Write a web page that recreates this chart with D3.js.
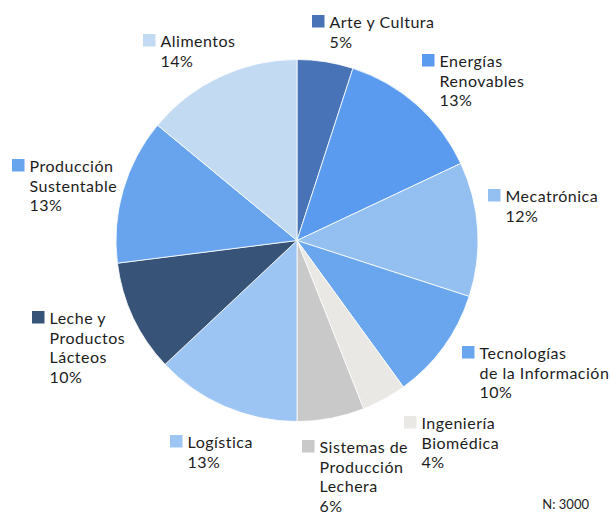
<!DOCTYPE html>
<html>
<head>
<meta charset="utf-8">
<script src="https://cdn.jsdelivr.net/npm/d3@7"></script>
<style>
  body { margin: 0; background: #fff; }
  text { font-family: Lato, "Noto Sans", sans-serif; fill: #1d1d1d; }
</style>
</head>
<body>
<svg id="chart" width="612" height="513"></svg>
<script>
const categories = ["Arte y Cultura", "Energías Renovables", "Mecatrónica",
  "Tecnologías de la Información", "Ingeniería Biomédica",
  "Sistemas de Producción Lechera", "Logística", "Leche y Productos Lácteos",
  "Producción Sustentable", "Alimentos"];
const values = [5, 13, 12, 10, 4, 6, 13, 10, 13, 14];
const labelLines = [
  ["Arte y Cultura"], ["Energías", "Renovables"], ["Mecatrónica"],
  ["Tecnologías", "de la Información"], ["Ingeniería", "Biomédica"],
  ["Sistemas de", "Producción", "Lechera"], ["Logística"],
  ["Leche y", "Productos", "Lácteos"], ["Producción", "Sustentable"], ["Alimentos"]
];
const total = 3000;

const colors = ["#4873b6", "#5b9bef", "#93c0f0", "#6aa6ee", "#e9e8e4",
  "#c9c9c9", "#9dc5f3", "#375478", "#68a4ee", "#c3daf3"];
// legend square top-left for each label
const labelPos = [[312, 15], [422, 54], [488, 189], [462, 346], [404, 416],
  [302, 440], [170, 435], [32, 311], [12, 159], [143, 34]];

const svg = d3.select("#chart");
const cx = 297, cy = 240.5, r = 181;

const pie = d3.pie().sort(null).value(function(d) { return d; });
const arc = d3.arc().innerRadius(0).outerRadius(r);

svg.append("g")
    .attr("transform", `translate(${cx},${cy})`)
  .selectAll("path")
  .data(pie(values))
  .enter().append("path")
    .attr("d", arc)
    .attr("fill", function(d, i) { return colors[i]; })
    .attr("stroke", "#fff")
    .attr("stroke-width", 0.8);

const lineH = 19.5;
const labels = svg.append("g")
  .selectAll("g")
  .data(categories)
  .enter().append("g")
    .attr("transform", function(d, i) { return `translate(${labelPos[i][0]},${labelPos[i][1]})`; });

labels.append("rect")
    .attr("width", 12.5)
    .attr("height", 12.5)
    .attr("fill", function(d, i) { return colors[i]; });

labels.each(function(d, i) {
  const g = d3.select(this);
  const lines = labelLines[i].concat([values[i] + "%"]);
  lines.forEach(function(t, j) {
    g.append("text")
      .attr("x", 17.5)
      .attr("y", 13 + j * lineH)
      .attr("font-size", 16)
      .attr("letter-spacing", 0.5)
      .text(t);
  });
});

svg.append("text")
    .attr("x", 589)
    .attr("y", 509)
    .attr("text-anchor", "end")
    .attr("font-size", 13)
    .text("N: " + total);
</script>
</body>
</html>
